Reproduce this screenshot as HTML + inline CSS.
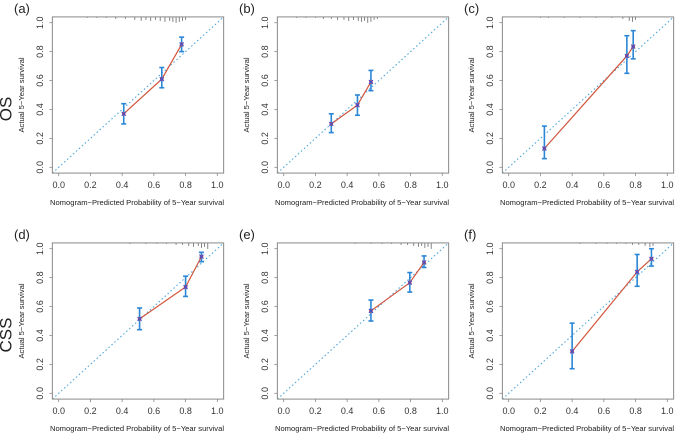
<!DOCTYPE html>
<html><head><meta charset="utf-8"><style>
html,body{margin:0;padding:0;background:#fff;}
svg{display:block;font-family:"Liberation Sans",Arial,sans-serif;}
</style></head><body>
<svg id="chart" width="676" height="433" viewBox="0 0 676 433" xmlns="http://www.w3.org/2000/svg">
<text x="6" y="109" font-size="17" fill="#222" transform="rotate(-90 6 109)" text-anchor="middle" dominant-baseline="central">OS</text>
<text x="6" y="335" font-size="17" fill="#222" transform="rotate(-90 6 335)" text-anchor="middle" dominant-baseline="central">CSS</text>
</svg>
<script>
const panelNames = ["a","b","c","d","e","f"];
const predA = [0.41,0.65,0.775], obsA = [0.37,0.61,0.85], loA=[0.30,0.55,0.80], hiA=[0.44,0.69,0.90];
const predB = [0.30,0.465,0.55], obsB = [0.30,0.43,0.59], loB=[0.24,0.36,0.53], hiB=[0.37,0.50,0.67];
const predC = [0.225,0.745,0.785], obsC = [0.13,0.77,0.835], loC=[0.06,0.65,0.75], hiC=[0.285,0.91,0.945];
const predD = [0.51,0.80,0.90], obsD = [0.515,0.735,0.945], loD=[0.44,0.67,0.91], hiD=[0.59,0.81,0.975];
const predE = [0.55,0.795,0.885], obsE = [0.57,0.765,0.905], loE=[0.50,0.70,0.87], hiE=[0.645,0.835,0.95];
const predF = [0.40,0.81,0.90], obsF = [0.29,0.84,0.93], loF=[0.17,0.74,0.88], hiF=[0.485,0.96,1.0];
const rugA = [0.18,0.24,0.3,0.36,0.42,0.48,0.52,0.55,0.58,0.61,0.64,0.67,0.70,0.72,0.74,0.76,0.78,0.80];
const rugAh = [1,1,1,2,2,3,4,3,4,3,4,5,4,5,6,5,4,3];
const rugB = [0.08,0.14,0.2,0.25,0.3,0.34,0.38,0.41,0.44,0.47,0.49,0.51,0.53,0.55,0.57,0.59];
const rugBh = [1,1,1,2,2,3,3,4,3,4,5,4,6,5,3,2];
const rugC = [0.2,0.25,0.35,0.45,0.55,0.65,0.72,0.76,0.78,0.80];
const rugCh = [1,1,1,1,1,1,2,4,5,3];
const rugD = [0.45,0.55,0.62,0.68,0.74,0.78,0.82,0.85,0.88,0.90,0.92,0.94];
const rugDh = [1,1,1,1,2,2,3,4,3,5,4,6];
const rugE = [0.45,0.55,0.62,0.68,0.74,0.78,0.82,0.85,0.87,0.89,0.91,0.93];
const rugEh = [1,1,1,1,2,2,3,4,3,5,4,6];
const rugF = [0.45,0.55,0.62,0.68,0.74,0.78,0.82,0.86,0.89,0.91];
const rugFh = [1,1,1,1,1,2,2,3,4,3];
const tickVals = [0.0,0.2,0.4,0.6,0.8,1.0];
const tickLabels = ["0.0","0.2","0.4","0.6","0.8","1.0"];

const panels = [
 {ox:0,oy:0,p:predA,o:obsA,lo:loA,hi:hiA,r:rugA,rh:rugAh},
 {ox:225,oy:0,p:predB,o:obsB,lo:loB,hi:hiB,r:rugB,rh:rugBh},
 {ox:450,oy:0,p:predC,o:obsC,lo:loC,hi:hiC,r:rugC,rh:rugCh},
 {ox:0,oy:226,p:predD,o:obsD,lo:loD,hi:hiD,r:rugD,rh:rugDh},
 {ox:225,oy:226,p:predE,o:obsE,lo:loE,hi:hiE,r:rugE,rh:rugEh},
 {ox:450,oy:226,p:predF,o:obsF,lo:loF,hi:hiF,r:rugF,rh:rugFh}
];
const svg = document.getElementById('chart');
const NS = "http://www.w3.org/2000/svg";
function mk(tag, attrs, parent){const e=document.createElementNS(NS,tag);for(const k in attrs)e.setAttribute(k,attrs[k]);(parent||svg).appendChild(e);return e;}

panels.forEach((P,i)=>{
  const nm = panelNames[i];
  const g = mk('g',{});
  
  
  const xs = v => P.ox + 58.7 + v*158.6;
  const ys = v => P.oy + 167.3 - v*144.6;
  const L = xs(-0.04), R = xs(1.04), T = ys(1.04), B = ys(-0.04);
  const d = mk('line',{x1:xs(-0.04),y1:ys(-0.04),x2:xs(1.04),y2:ys(1.04),stroke:"#4ea6dc","stroke-width":1.1,"stroke-dasharray":"1.5 2.5"},g);
  
  
  P.r.forEach((v,k)=>{
    const t = mk('line',{x1:xs(v),x2:xs(v),y1:T,y2:T+P.rh[k],stroke:"#666","stroke-width":0.8},g);
    
    
  });
  const box = mk('rect',{x:L,y:T,width:R-L,height:B-T,fill:"none",stroke:"#888","stroke-width":1},g);
  
  
  tickVals.forEach((v,k)=>{
    mk('line',{x1:xs(v),x2:xs(v),y1:B,y2:B+3,stroke:"#888","stroke-width":0.8},g);
    const tx = mk('text',{x:xs(v),y:B+15,"font-size":9,"text-anchor":"middle",fill:"#333"},g);
    tx.textContent = tickLabels[k];
    
    
    mk('line',{x1:L-3,x2:L,y1:ys(v),y2:ys(v),stroke:"#888","stroke-width":0.8},g);
    const ty = mk('text',{x:P.ox+43,y:ys(v),"font-size":9,"text-anchor":"middle",fill:"#333",transform:`rotate(-90 ${P.ox+43} ${ys(v)})`},g);
    ty.textContent = tickLabels[k];
    
    
  });
  const xt = mk('text',{x:(L+R)/2-1,y:B+32,"font-size":7.6,"text-anchor":"middle",fill:"#222"},g);
  xt.textContent = "Nomogram\u2212Predicted Probability of 5\u2212Year survival";
  
  
  const yc = P.oy+95;
  const yt = mk('text',{x:P.ox+24,y:yc,"font-size":7.6,"text-anchor":"middle",fill:"#222",transform:`rotate(-90 ${P.ox+24} ${yc})`},g);
  yt.textContent = "Actual 5\u2212Year survival";
  
  
  const pl = mk('text',{x:P.ox+14,y:P.oy+13,"font-size":13,fill:"#222"},g);
  pl.textContent = "("+nm+")";
  
  
  P.p.forEach((v,k)=>{
    const eb = mk('g',{stroke:"#2a86d6","stroke-width":1.6},g);
    
    
    mk('line',{x1:xs(v),x2:xs(v),y1:ys(P.lo[k]),y2:ys(P.hi[k])},eb);
    mk('line',{x1:xs(v)-2.5,x2:xs(v)+2.5,y1:ys(P.lo[k]),y2:ys(P.lo[k])},eb);
    mk('line',{x1:xs(v)-2.5,x2:xs(v)+2.5,y1:ys(P.hi[k]),y2:ys(P.hi[k])},eb);
  });
  const pts = P.p.map((v,k)=>xs(v)+","+ys(P.o[k])).join(" ");
  const ln = mk('polyline',{points:pts,fill:"none",stroke:"#d2553c","stroke-width":1.2},g);
  
  
  P.p.forEach((v,k)=>{
    const x=xs(v), y=ys(P.o[k]);
    const m = mk('rect',{x:x-1.8,y:y-1.8,width:3.6,height:3.6,fill:"#c85050"},g);
    
    
    const c = mk('path',{d:`M${x-2},${y-2}L${x+2},${y+2}M${x-2},${y+2}L${x+2},${y-2}`,stroke:"#3a4fd8","stroke-width":1},g);
    
    
  });
});
</script>
</body></html>
